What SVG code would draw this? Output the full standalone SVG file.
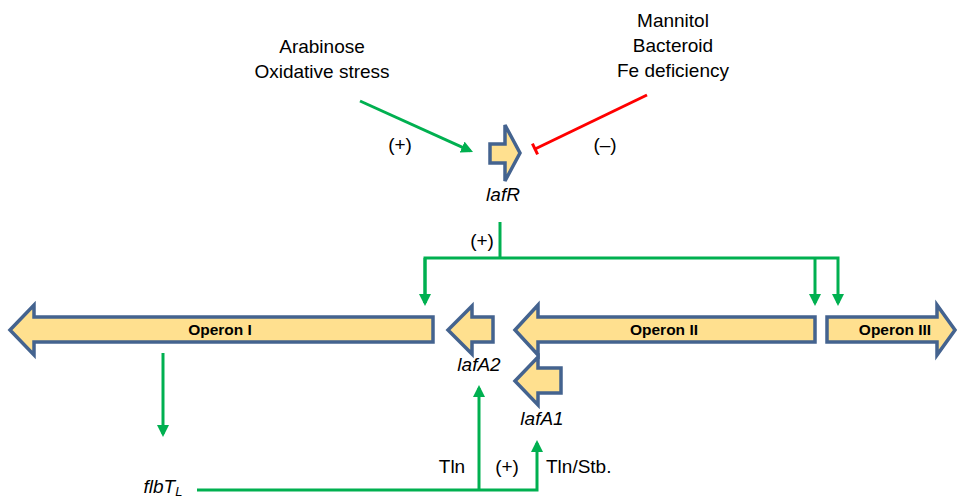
<svg xmlns="http://www.w3.org/2000/svg" width="959" height="501" viewBox="0 0 959 501">
<style>
.t{font-family:"Liberation Sans",Arial,sans-serif;font-size:19px;fill:#000;text-anchor:middle}
.i{font-style:italic}
.op{font-family:"Liberation Sans",Arial,sans-serif;font-size:15.5px;font-weight:bold;fill:#000;text-anchor:middle}
.gene{fill:#FFE08F;stroke:#44638F;stroke-width:3.5;stroke-linejoin:miter}
.g{fill:none;stroke:#00B050;stroke-width:3}
</style>
<defs>
<marker id="ah" viewBox="0 0 12 12" markerWidth="12" markerHeight="12" refX="9" refY="6" orient="auto" markerUnits="userSpaceOnUse">
<path d="M0,0 L12,6 L0,12 z" fill="#00B050"/>
</marker>
</defs>
<rect width="959" height="501" fill="#fff"/>

<g id="signals-plus">
<text class="t" x="322" y="53">Arabinose</text>
<text class="t" x="322" y="78">Oxidative stress</text>
</g>
<g id="signals-minus">
<text class="t" x="673" y="27">Mannitol</text>
<text class="t" x="673" y="52">Bacteroid</text>
<text class="t" x="673" y="77">Fe deficiency</text>
</g>

<g id="lafR">
<polygon class="gene" points="490,144 505,144 505,125 520,153 505,181 505,163 490,163"/>
<text class="t i" x="503" y="201">lafR</text>
</g>

<g id="operonI">
<polygon class="gene" points="10,330 34,305 34,317 433,317 433,342 34,342 34,355"/>
<text class="op" x="220" y="335">Operon I</text>
</g>
<g id="lafA2">
<polygon class="gene" points="448,330 472,306 472,317 493,317 493,342 472,342 472,354"/>
<text class="t i" x="479" y="371">lafA2</text>
</g>
<g id="operonII">
<polygon class="gene" points="515,330 538,305 538,317 815,317 815,342 538,342 538,355"/>
<text class="op" x="664" y="335">Operon II</text>
</g>
<g id="operonIII">
<polygon class="gene" points="827,317 937,317 937,305 955,330 937,355 937,342 827,342"/>
<text class="op" x="895" y="335">Operon III</text>
</g>
<g id="lafA1">
<polygon class="gene" points="515,381 538,357 538,368 561,368 561,393 538,393 538,405"/>
<text class="t i" x="542" y="425">lafA1</text>
</g>
<g id="flbTL">
<text class="t i" x="163" y="493">flbT<tspan font-size="13" dy="3">L</tspan></text>
</g>

<g id="connectors">
<line class="g" x1="360" y1="101" x2="470.3" y2="150.8" marker-end="url(#ah)"/>
<line x1="647" y1="95" x2="535" y2="149" stroke="#FF0000" stroke-width="3"/>
<line x1="532.4" y1="143.6" x2="537.6" y2="154.4" stroke="#FF0000" stroke-width="3"/>
<polyline class="g" points="500,222 500,258"/>
<polyline class="g" points="425,303 425,258 838,258 838,303" marker-end="url(#ah)"/>
<line class="g" x1="425" y1="258" x2="425" y2="303" marker-end="url(#ah)"/>
<line class="g" x1="815" y1="258" x2="815" y2="303" marker-end="url(#ah)"/>
<line class="g" x1="163" y1="353" x2="163" y2="434" marker-end="url(#ah)"/>
<polyline class="g" points="197,490 537,490 537,443" marker-end="url(#ah)"/>
<line class="g" x1="479" y1="490" x2="479" y2="388" marker-end="url(#ah)"/>
<text class="t" x="482" y="247">(+)</text>
<text class="t" x="400" y="151">(+)</text>
<text class="t" x="605" y="151">(–)</text>
<text class="t" x="452" y="473">Tln</text>
<text class="t" x="507" y="473">(+)</text>
<text class="t" x="546" y="473" style="text-anchor:start">Tln/Stb.</text>
</g>
</svg>
